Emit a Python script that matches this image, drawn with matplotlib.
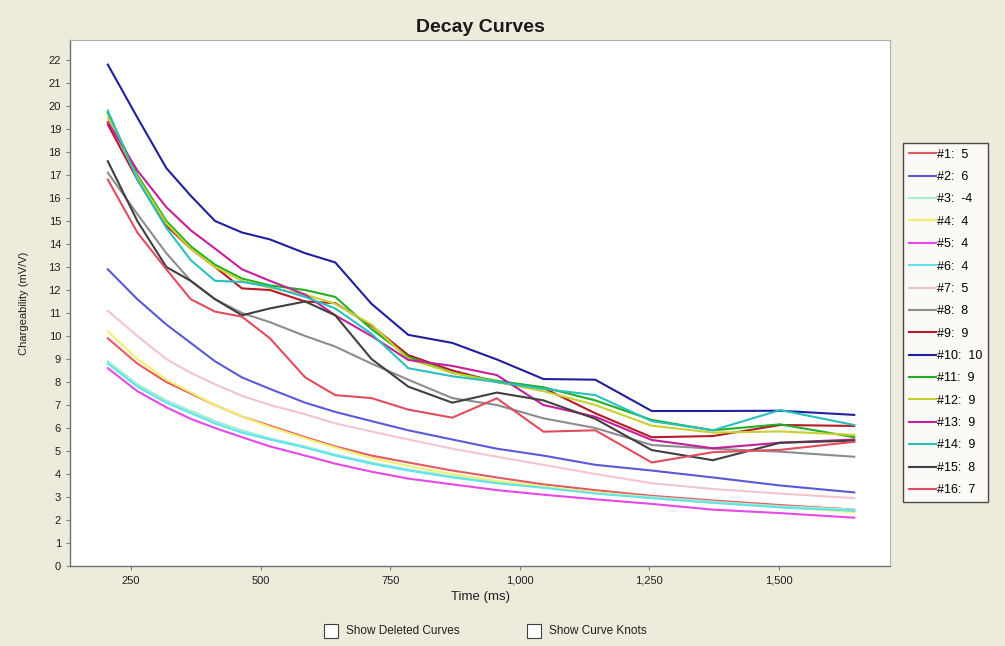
import matplotlib.pyplot as plt
from matplotlib.patches import Rectangle

# gate centre times (ms)
times = [205, 262, 318, 365, 412, 464, 518, 586, 644, 714, 785, 870, 956,
         1046, 1146, 1255, 1373, 1503, 1646]

c01 = [9.9, 8.8, 8.0, 7.5, 7.0, 6.5, 6.1, 5.6, 5.2, 4.8, 4.5, 4.15, 3.85,
       3.55, 3.3, 3.05, 2.85, 2.65, 2.45]
c02 = [12.9, 11.6, 10.5, 9.7, 8.9, 8.2, 7.7, 7.1, 6.7, 6.3, 5.9, 5.5, 5.1,
       4.8, 4.4, 4.15, 3.85, 3.5, 3.2]
c03 = [8.9, 7.9, 7.2, 6.75, 6.3, 5.9, 5.55, 5.2, 4.85, 4.5, 4.2, 3.9, 3.65,
       3.45, 3.2, 3.0, 2.8, 2.6, 2.45]
c04 = [10.2, 9.0, 8.1, 7.55, 7.0, 6.5, 6.05, 5.55, 5.15, 4.7, 4.35, 4.0, 3.7,
       3.45, 3.2, 2.95, 2.75, 2.55, 2.35]
c05 = [8.6, 7.6, 6.9, 6.4, 6.0, 5.6, 5.2, 4.8, 4.45, 4.1, 3.8, 3.55, 3.3,
       3.1, 2.9, 2.7, 2.45, 2.3, 2.1]
c06 = [8.8, 7.8, 7.1, 6.65, 6.2, 5.8, 5.5, 5.15, 4.8, 4.45, 4.15, 3.85, 3.6,
       3.4, 3.15, 2.95, 2.75, 2.55, 2.4]
c07 = [11.1, 10.0, 9.0, 8.4, 7.9, 7.4, 7.0, 6.6, 6.2, 5.85, 5.5, 5.1, 4.75,
       4.4, 4.0, 3.6, 3.35, 3.15, 2.95]
c08 = [17.1, 15.3, 13.6, 12.4, 11.6, 11.0, 10.6, 10.0, 9.54, 8.8, 8.1, 7.3,
       7.0, 6.42, 6.0, 5.26, 5.1, 4.97, 4.75]
c09 = [19.2, 16.8, 14.8, 13.8, 13.0, 12.07, 12.0, 11.5, 11.43, 10.45, 9.17,
       8.5, 8.0, 7.74, 6.64, 5.6, 5.65, 6.13, 6.09]
c10 = [21.8, 19.5, 17.3, 16.1, 15.0, 14.5, 14.2, 13.6, 13.2, 11.4, 10.05,
       9.7, 8.98, 8.13, 8.1, 6.74, 6.74, 6.75, 6.57]
c11 = [19.7, 17.0, 15.0, 13.9, 13.1, 12.5, 12.2, 12.0, 11.7, 10.3, 9.1,
       8.4, 8.05, 7.77, 7.2, 6.35, 5.9, 6.16, 5.6]
c12 = [19.5, 16.9, 14.9, 13.8, 13.0, 12.4, 12.1, 11.8, 11.4, 10.5, 9.0,
       8.4, 8.0, 7.6, 7.0, 6.1, 5.8, 5.85, 5.7]
c13 = [19.3, 17.2, 15.6, 14.6, 13.8, 12.9, 12.4, 11.8, 10.9, 10.0, 8.96,
       8.7, 8.3, 7.0, 6.49, 5.48, 5.12, 5.36, 5.5]
c14 = [19.8, 16.8, 14.7, 13.3, 12.4, 12.35, 12.15, 11.7, 11.2, 10.1, 8.6,
       8.25, 8.0, 7.7, 7.43, 6.3, 5.9, 6.78, 6.13]
c15 = [17.6, 15.0, 13.0, 12.4, 11.6, 10.9, 11.2, 11.5, 10.9, 9.0, 7.8,
       7.1, 7.54, 7.2, 6.4, 5.04, 4.6, 5.36, 5.45]
c16 = [16.8, 14.5, 12.9, 11.6, 11.06, 10.84, 9.9, 8.2, 7.43, 7.3, 6.8,
       6.45, 7.29, 5.84, 5.9, 4.5, 4.95, 5.05, 5.4]

curves = [c01, c02, c03, c04, c05, c06, c07, c08,
          c09, c10, c11, c12, c13, c14, c15, c16]
weights = [5, 6, -4, 4, 4, 4, 5, 8, 9, 10, 9, 9, 9, 9, 8, 7]
colors = ['#e55a62', '#5a5ad8', '#a8ecd2', '#f2f070', '#e848e8', '#5ee4f0',
          '#f4c4cc', '#8c8c8c', '#b81828', '#20209c', '#22b022', '#c8d030',
          '#c4209c', '#28c0c0', '#404040', '#e24c5e']

x_ticks = [250, 500, 750, 1000, 1250, 1500]
x_ticklabels = ['250', '500', '750', '1,000', '1,250', '1,500']

bg = '#eeebdc'
plt.rcParams['font.family'] = ['Liberation Sans', 'DejaVu Sans']

fig = plt.figure(figsize=(10.05, 6.46), dpi=100, facecolor=bg)
ax = fig.add_axes([70 / 1005, 80 / 646, 820 / 1005, 526 / 646])
ax.set_facecolor('white')

lines = []
for vals, col in zip(curves, colors):
    ln, = ax.plot(times, vals, color=col, lw=1.5, solid_joinstyle='miter')
    lines.append(ln)

ax.set_xlim(132, 1715)
ax.set_ylim(0, 22.87)
ax.set_xticks(x_ticks)
ax.set_xticklabels(x_ticklabels)
ax.set_yticks(range(0, 23))
ax.tick_params(axis='both', labelsize=8, length=3, width=0.8,
               color='#808080', labelcolor='#202020')
ax.tick_params(axis='x', pad=4)

for side in ['top', 'right']:
    ax.spines[side].set_color('#b0b0b0')
    ax.spines[side].set_linewidth(0.8)
for side in ['left', 'bottom']:
    ax.spines[side].set_color('#707070')
    ax.spines[side].set_linewidth(1.0)

ax.set_xlabel('Time (ms)', fontsize=9.5, labelpad=4, color='#202020')
ax.set_ylabel('Chargeability (mV/V)', fontsize=8, labelpad=14,
              color='#202020')

fig.text(0.478, 1 - 27 / 646, 'Decay Curves', ha='center', va='center',
         fontsize=14, fontweight='bold', color='#1a1a1a')

labels = ['#{}:  {}'.format(i + 1, w) for i, w in enumerate(weights)]
leg = fig.legend(lines, labels, loc='upper left',
                 bbox_to_anchor=(903 / 1005, 1 - 143 / 646),
                 fontsize=9, handlelength=2.15, handletextpad=0.15,
                 labelspacing=0.83, borderpad=0.45, borderaxespad=0,
                 fancybox=False, frameon=True)
leg.get_frame().set_edgecolor('#202020')
leg.get_frame().set_linewidth(1.0)
leg.get_frame().set_facecolor('white')

# check boxes under the chart
for bx, txt in [(324, 'Show Deleted Curves'), (527, 'Show Curve Knots')]:
    fig.patches.append(Rectangle((bx / 1005, 1 - 638 / 646), 14 / 1005,
                                 14 / 646, transform=fig.transFigure,
                                 facecolor='white', edgecolor='#404040',
                                 lw=0.8))
    fig.text((bx + 22) / 1005, 1 - 631 / 646, txt, ha='left', va='center',
             fontsize=8.5, color='#202020')

fig.savefig('out.png', dpi=100, facecolor=bg)
